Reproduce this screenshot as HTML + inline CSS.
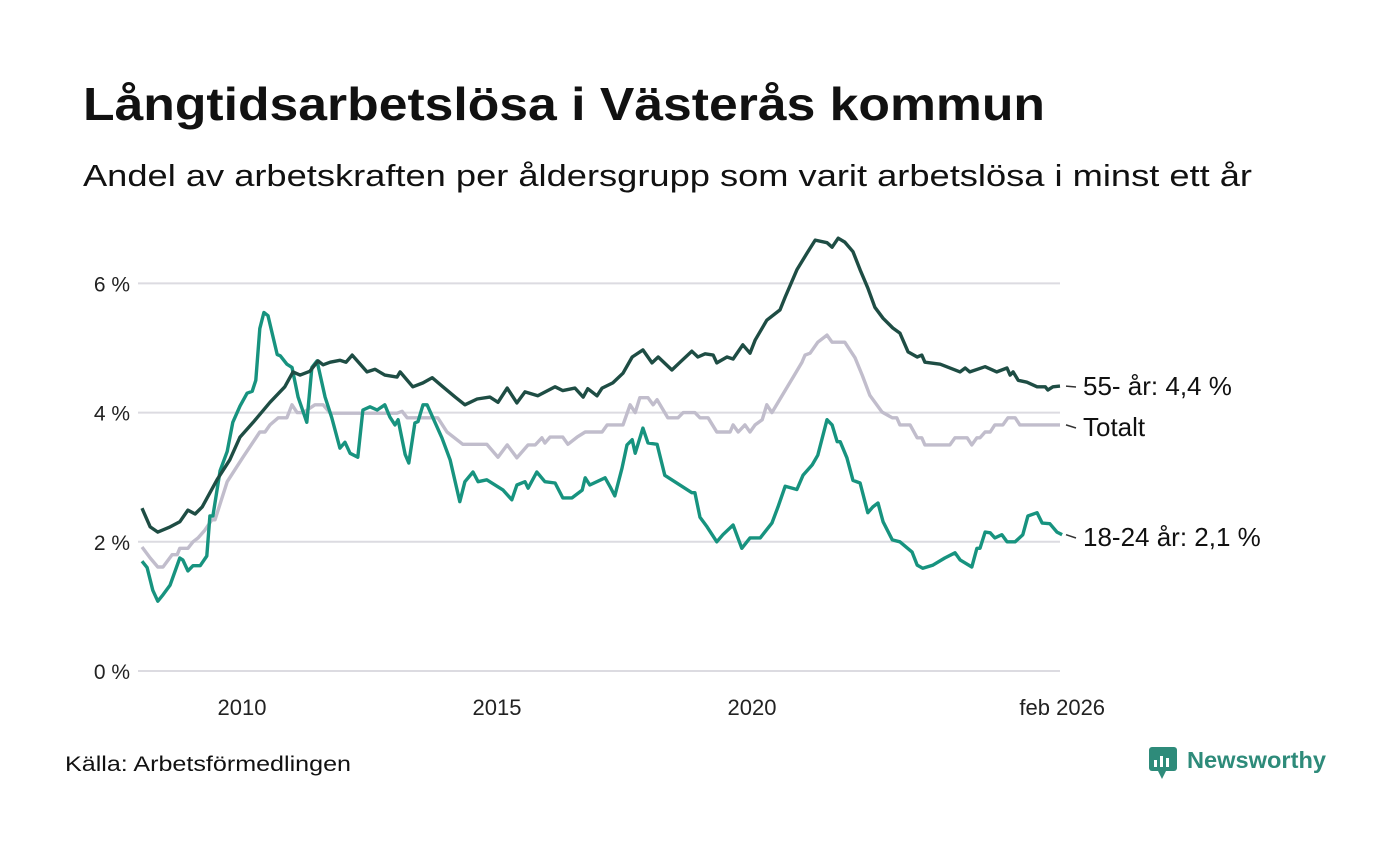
<!DOCTYPE html>
<html><head><meta charset="utf-8">
<style>
body{margin:0;background:#fff;width:1400px;height:840px;overflow:hidden;font-family:"Liberation Sans","DejaVu Sans",sans-serif;}
svg text{font-family:"Liberation Sans","DejaVu Sans",sans-serif;}
</style></head>
<body>
<svg id="chart" width="1400" height="840">
<text x="83" y="120" font-size="46" font-weight="bold" fill="#111" textLength="962" lengthAdjust="spacingAndGlyphs">Långtidsarbetslösa i Västerås kommun</text>
<text x="83" y="186" font-size="31" fill="#111" textLength="1169" lengthAdjust="spacingAndGlyphs">Andel av arbetskraften per åldersgrupp som varit arbetslösa i minst ett år</text>
<g id="grid"></g>
<g id="yaxis"></g>
<g id="xaxis"></g>
<g id="lines"></g>
<g id="labels"></g>
<text x="65" y="771" font-size="21" fill="#111" textLength="286" lengthAdjust="spacingAndGlyphs">Källa: Arbetsförmedlingen</text>
<g>
<rect x="1149" y="747" width="28" height="24" rx="3" fill="#2e8b7a"/>
<polygon points="1158,771 1166,771 1162,779" fill="#2e8b7a"/>
<rect x="1154" y="760" width="3" height="7" fill="#fff"/><rect x="1160" y="756" width="3" height="11" fill="#fff"/><rect x="1166" y="758" width="3" height="9" fill="#fff"/>
<text x="1187" y="768" font-size="23" font-weight="bold" fill="#2e8b7a" textLength="139" lengthAdjust="spacingAndGlyphs">Newsworthy</text>
</g>
</svg>
<script>
const yTicks=[0,2,4,6];
const yTickLabels=["0 %","2 %","4 %","6 %"];
const xTicks=[2010,2015,2020,2026.083];
const xTickLabels=["2010","2015","2020","feb 2026"];
const darkDates=[2008.04,2008.10,2008.20,2008.35,2008.59,2008.78,2008.94,2009.08,2009.22,2009.51,2009.76,2009.96,2010.22,2010.55,2010.84,2011.00,2011.14,2011.33,2011.49,2011.59,2011.73,2011.92,2012.04,2012.16,2012.45,2012.61,2012.80,2013.04,2013.10,2013.35,2013.55,2013.73,2013.94,2014.18,2014.37,2014.61,2014.86,2015.02,2015.20,2015.39,2015.55,2015.80,2016.14,2016.29,2016.53,2016.69,2016.78,2016.96,2017.06,2017.27,2017.47,2017.65,2017.86,2018.04,2018.16,2018.43,2018.59,2018.82,2018.94,2019.08,2019.24,2019.31,2019.51,2019.63,2019.82,2019.96,2020.06,2020.29,2020.55,2020.65,2020.88,2021.08,2021.24,2021.47,2021.57,2021.69,2021.82,2021.98,2022.12,2022.27,2022.41,2022.57,2022.76,2022.90,2023.06,2023.24,2023.33,2023.39,2023.69,2024.08,2024.18,2024.27,2024.57,2024.80,2025.00,2025.06,2025.12,2025.22,2025.39,2025.59,2025.75,2025.80,2025.90,2026.04];
const darkValues=[2.52,2.41,2.23,2.15,2.23,2.31,2.49,2.43,2.54,2.96,3.27,3.62,3.85,4.16,4.40,4.63,4.58,4.64,4.80,4.74,4.78,4.81,4.78,4.89,4.63,4.67,4.58,4.55,4.63,4.40,4.46,4.54,4.40,4.24,4.12,4.21,4.24,4.16,4.38,4.15,4.32,4.26,4.40,4.34,4.38,4.24,4.37,4.26,4.38,4.46,4.61,4.86,4.97,4.77,4.86,4.66,4.78,4.95,4.86,4.91,4.89,4.77,4.86,4.83,5.05,4.92,5.12,5.43,5.59,5.79,6.21,6.47,6.67,6.63,6.56,6.70,6.64,6.49,6.21,5.93,5.63,5.46,5.31,5.23,4.94,4.86,4.89,4.78,4.75,4.63,4.69,4.63,4.71,4.63,4.69,4.58,4.63,4.50,4.47,4.40,4.40,4.35,4.40,4.41];
const totalDates=[2008.04,2008.20,2008.35,2008.45,2008.63,2008.73,2008.78,2008.94,2009.04,2009.14,2009.27,2009.41,2009.47,2009.71,2010.02,2010.35,2010.45,2010.55,2010.71,2010.88,2010.98,2011.08,2011.20,2011.43,2011.59,2011.73,2013.04,2013.14,2013.24,2013.84,2014.02,2014.33,2014.80,2015.02,2015.20,2015.39,2015.61,2015.75,2015.88,2015.94,2016.04,2016.29,2016.39,2016.57,2016.73,2017.06,2017.16,2017.47,2017.61,2017.71,2017.80,2017.96,2018.06,2018.14,2018.35,2018.55,2018.65,2018.88,2018.98,2019.14,2019.31,2019.57,2019.63,2019.73,2019.86,2019.96,2020.06,2020.20,2020.29,2020.39,2020.80,2020.98,2021.04,2021.14,2021.29,2021.47,2021.57,2021.82,2022.02,2022.16,2022.31,2022.55,2022.75,2022.84,2022.90,2023.10,2023.24,2023.33,2023.39,2023.88,2023.98,2024.22,2024.31,2024.41,2024.47,2024.57,2024.67,2024.76,2024.92,2025.02,2025.16,2025.25,2026.04];
const totalValues=[1.92,1.75,1.61,1.61,1.80,1.80,1.90,1.90,2.0,2.06,2.18,2.34,2.34,2.93,3.31,3.70,3.70,3.81,3.92,3.92,4.12,4.0,4.0,4.12,4.12,3.99,3.99,4.02,3.92,3.92,3.70,3.51,3.51,3.31,3.50,3.30,3.50,3.50,3.61,3.53,3.62,3.62,3.51,3.62,3.70,3.70,3.81,3.81,4.12,4.0,4.23,4.23,4.12,4.20,3.92,3.92,4.0,4.0,3.92,3.92,3.70,3.70,3.81,3.70,3.81,3.70,3.81,3.89,4.12,4.0,4.54,4.78,4.89,4.92,5.09,5.20,5.09,5.09,4.85,4.58,4.27,4.01,3.92,3.92,3.81,3.81,3.61,3.61,3.50,3.50,3.61,3.61,3.50,3.61,3.61,3.70,3.70,3.81,3.81,3.92,3.92,3.81,3.81];
const youthDates=[2008.04,2008.14,2008.25,2008.35,2008.45,2008.59,2008.78,2008.84,2008.94,2009.04,2009.18,2009.31,2009.37,2009.43,2009.57,2009.71,2009.82,2009.96,2010.10,2010.20,2010.27,2010.35,2010.43,2010.51,2010.69,2010.75,2010.88,2010.98,2011.10,2011.27,2011.37,2011.47,2011.63,2011.76,2011.92,2012.02,2012.12,2012.27,2012.37,2012.51,2012.65,2012.80,2012.90,2013.00,2013.06,2013.20,2013.27,2013.39,2013.45,2013.55,2013.63,2013.92,2014.08,2014.27,2014.37,2014.53,2014.63,2014.80,2015.12,2015.29,2015.39,2015.55,2015.61,2015.78,2015.94,2016.14,2016.29,2016.47,2016.67,2016.73,2016.82,2017.12,2017.22,2017.31,2017.45,2017.55,2017.65,2017.71,2017.86,2017.96,2018.14,2018.29,2018.82,2018.88,2018.98,2019.12,2019.31,2019.43,2019.63,2019.80,2019.96,2020.16,2020.39,2020.51,2020.65,2020.88,2021.00,2021.18,2021.29,2021.47,2021.57,2021.67,2021.73,2021.86,2021.98,2022.12,2022.27,2022.37,2022.47,2022.57,2022.75,2022.90,2023.14,2023.24,2023.35,2023.55,2023.78,2023.98,2024.08,2024.31,2024.41,2024.47,2024.57,2024.67,2024.76,2024.90,2025.00,2025.16,2025.31,2025.41,2025.59,2025.69,2025.84,2025.98,2026.08];
const youthValues=[1.70,1.60,1.25,1.08,1.18,1.33,1.75,1.72,1.55,1.63,1.63,1.78,2.40,2.40,3.10,3.40,3.85,4.10,4.30,4.33,4.50,5.30,5.55,5.50,4.90,4.88,4.75,4.70,4.24,3.85,4.70,4.80,4.24,3.92,3.45,3.54,3.37,3.31,4.04,4.09,4.04,4.12,3.93,3.81,3.89,3.35,3.22,3.84,3.86,4.12,4.12,3.61,3.27,2.62,2.93,3.08,2.93,2.96,2.80,2.65,2.88,2.93,2.83,3.08,2.93,2.91,2.68,2.68,2.80,2.99,2.88,2.99,2.85,2.71,3.14,3.50,3.58,3.37,3.76,3.53,3.51,3.03,2.76,2.76,2.38,2.23,2.0,2.11,2.26,1.90,2.06,2.06,2.29,2.54,2.86,2.81,3.03,3.19,3.34,3.89,3.81,3.55,3.55,3.30,2.95,2.91,2.45,2.54,2.60,2.31,2.03,2.00,1.84,1.64,1.59,1.64,1.75,1.83,1.72,1.61,1.90,1.90,2.15,2.14,2.06,2.11,2.00,2.00,2.11,2.40,2.45,2.29,2.28,2.15,2.11];

const NS="http://www.w3.org/2000/svg";
const X0=138,X1=1060;
const xs=y=>140+(y-2008)*51;
const ys=v=>671-v*64.6;
function mk(tag,attrs,parent){const e=document.createElementNS(NS,tag);for(const k in attrs)e.setAttribute(k,attrs[k]);parent.appendChild(e);return e;}
const grid=document.getElementById('grid'),ya=document.getElementById('yaxis'),xa=document.getElementById('xaxis'),lines=document.getElementById('lines'),labs=document.getElementById('labels');
yTicks.forEach((t,i)=>{
  const l=mk('line',{x1:X0,x2:X1,y1:ys(t),y2:ys(t),stroke:'#dcdbe1','stroke-width':2},grid);
  
  
  const tx=mk('text',{x:130,y:ys(t)+8,'text-anchor':'end','font-size':21,fill:'#222'},ya);
  tx.textContent=yTickLabels[i];
  
  
});
xTicks.forEach((t,i)=>{
  const tx=mk('text',{x:xs(t),y:715,'text-anchor':'middle','font-size':22,fill:'#222'},xa);
  tx.textContent=xTickLabels[i];
  
  
});
function drawLine(dates,vals,color,name){
  const d=dates.map((t,i)=>(i?'L':'M')+xs(t).toFixed(1)+','+ys(vals[i]).toFixed(1)).join(' ');
  const p=mk('path',{d:d,fill:'none',stroke:color,'stroke-width':3.4,'stroke-linejoin':'round'},lines);
  
  
}
drawLine(totalDates,totalValues,'#c1bdcc','line-totalt');
drawLine(youthDates,youthValues,'#17937f','line-18-24');
drawLine(darkDates,darkValues,'#1e4d44','line-55');
function label(vals,text,ty,name){
  const last=vals[vals.length-1];
  mk('line',{x1:1066,x2:1076,y1:ys(last),y2:ty-8,stroke:'#333','stroke-width':1.5},labs);
  const tx=mk('text',{x:1083,y:ty,'font-size':26,fill:'#111'},labs);
  tx.textContent=text;
  
  
}
label(darkValues,'55- år: 4,4 %',395,'label-55');
label(totalValues,'Totalt',436,'label-totalt');
label(youthValues,'18-24 år: 2,1 %',546,'label-18-24');
</script>
</body></html>
